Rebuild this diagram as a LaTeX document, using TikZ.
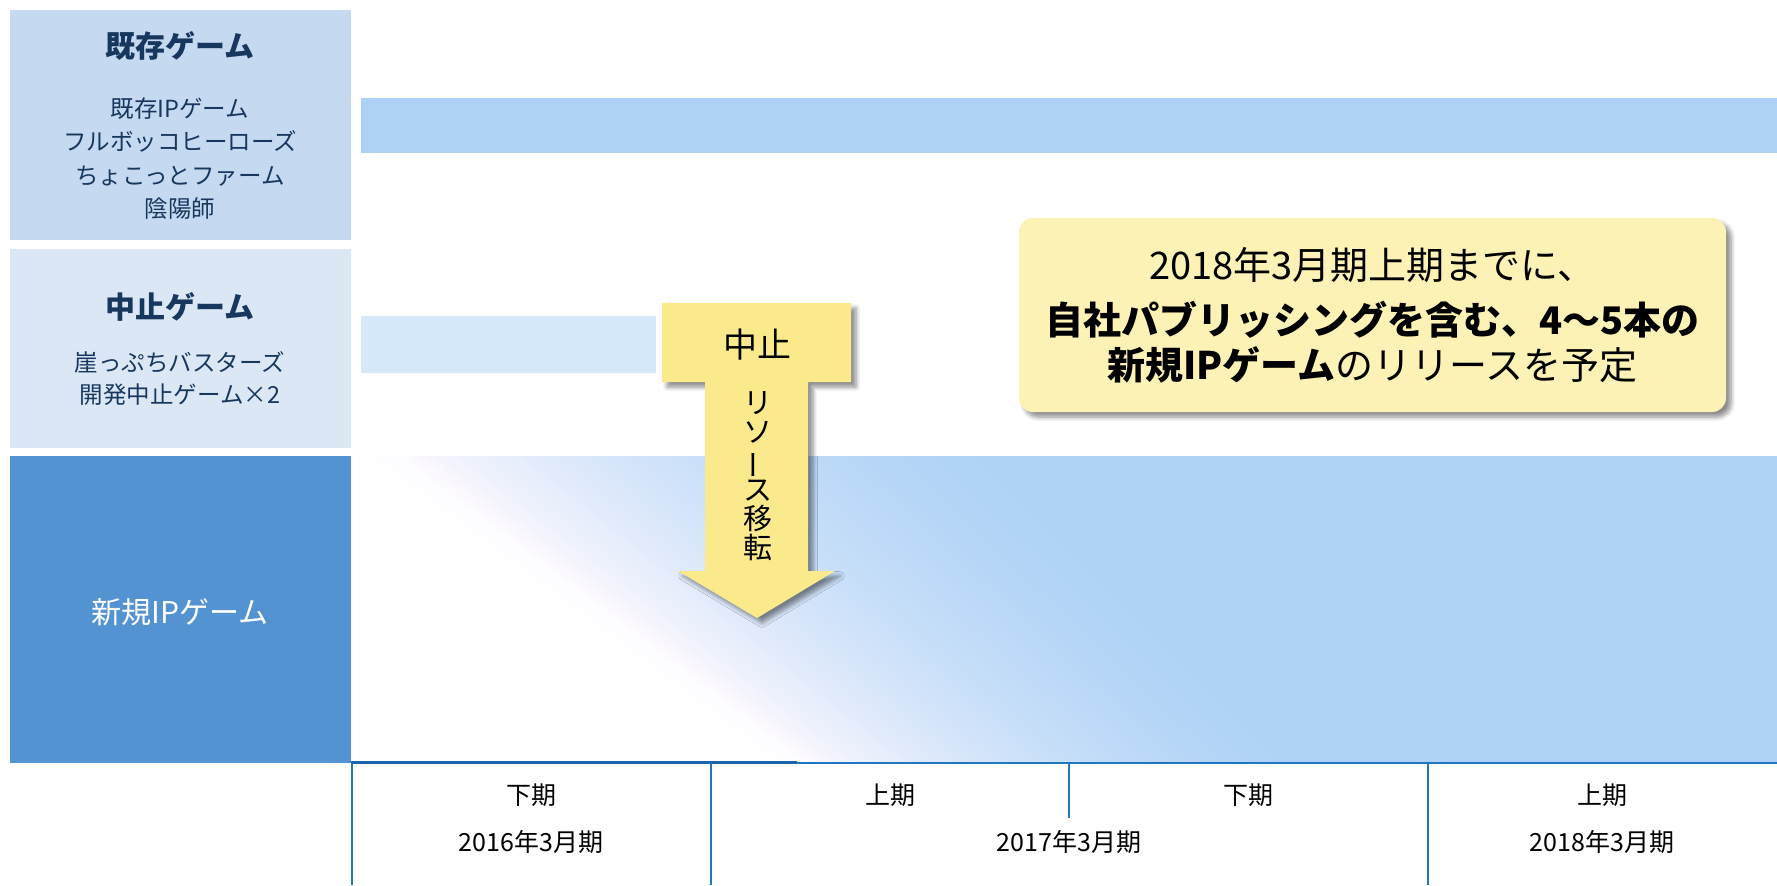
\documentclass[tikz,border=0pt]{standalone}
\usepackage{fontspec}
\usepackage{graphicx}
\setmainfont{Noto Sans CJK JP}
\usetikzlibrary{shadows.blur}
\definecolor{navy}{HTML}{17375E}
\definecolor{boxA}{HTML}{C5D9F0}
\definecolor{boxB}{HTML}{DBE7F4}
\definecolor{boxC}{HTML}{5393D2}
\definecolor{bandA}{HTML}{AED2F6}
\definecolor{bandB}{HTML}{D6E9FB}
\definecolor{nb}{HTML}{AED2F6}
\definecolor{lav}{HTML}{FCF8FE}
\definecolor{arrowy}{HTML}{FAEA8C}
\definecolor{callouty}{HTML}{FCF2B5}
\definecolor{tlblue}{HTML}{1F77C4}
\tikzset{
  catbox/.style={draw=none, inner sep=0pt, outer sep=0pt, anchor=north west, minimum width=170.5pt},
  cattitle/.style={text=navy, font=\fontsize{15pt}{18pt}\selectfont\bfseries},
  catlist/.style={text=navy, align=center, inner sep=0pt},
  tltext/.style={font=\fontsize{12.5pt}{15pt}\selectfont, text=black},
  tl/.style={draw=tlblue, line width=1pt},
  shad/.style={blur shadow={shadow xshift=2.5pt, shadow yshift=-2.5pt, shadow blur steps=6, shadow opacity=45}}
}
\begin{document}
\begin{tikzpicture}[x=0.5pt,y=-0.5pt]
\useasboundingbox (0,0) rectangle (1777,885);

% left category boxes
\node[catbox, fill=boxA, minimum height=115pt] (catA) at (10,10) {};
\node[catbox, fill=boxB, minimum height=99.5pt] (catB) at (10,249) {};
\node[catbox, fill=boxC, minimum height=153.5pt] (catC) at (10,456) {};

\node[cattitle] (tA) at (180,46) {既存ゲーム};
\node[catlist, font=\fontsize{11.75pt}{16.75pt}\selectfont] (lA) at (180,158.5)
  {既存IPゲーム\\フルボッコヒーローズ\\ちょこっとファーム\\陰陽師};
\node[cattitle] (tB) at (180,307) {中止ゲーム};
\node[catlist, font=\fontsize{11.75pt}{16pt}\selectfont] (lB) at (180,379)
  {崖っぷちバスターズ\\開発中止ゲーム×2};
\node[text=white, font=\fontsize{15pt}{18pt}\selectfont] (tC) at (180,612) {新規IPゲーム};

% bands
\fill[bandA] (361,98) rectangle (1777,153);
\fill[bandB] (361,316) rectangle (656,373);

% gradient area for new IP games
\begin{scope}
  \clip (351,456) rectangle (1777,762);
  \fill[nb] (351,456) rectangle (1777,762);
  \fill[white] (300,456) -- (362,456) -- (772,762) -- (300,762) -- cycle;
  \foreach \i in {0,...,59}{
    \pgfmathsetmacro{\q}{(\i+0.5)/60}
    \pgfmathsetmacro{\xa}{360+\i*10.667}
    \pgfmathsetmacro{\xb}{\xa+11.667}
    \pgfmathsetmacro{\xd}{770+\i*8.933}
    \pgfmathsetmacro{\xc}{\xd+9.933}
    \pgfmathsetmacro{\gg}{100*min(1,\q/0.12)}
    \pgfmathsetmacro{\tt}{max(0,(\q-0.06)/0.94)}
    \pgfmathsetmacro{\ff}{100*(0.6*(1-(1-\tt)*(1-\tt))+0.4*\tt)}
    \fill[nb!\ff!lav!\gg!white] (\xa,456) -- (\xb,456) -- (\xc,762) -- (\xd,762) -- cycle;
  }
\end{scope}

% timeline
\draw[tl] (351,763) -- (1777,763);
\draw[draw=tlblue!85!black, line width=1.5pt] (351,762) -- (797,762);
\draw[tl] (352,763) -- (352,885);
\draw[tl] (711,763) -- (711,885);
\draw[tl] (1069,763) -- (1069,818);
\draw[tl] (1428,763) -- (1428,885);

\node[tltext] (h1) at (531,795) {下期};
\node[tltext] (h2) at (890,795) {上期};
\node[tltext] (h3) at (1248,795) {下期};
\node[tltext] (h4) at (1602,795) {上期};
\node[tltext] (y1) at (531,842) {2016年3月期};
\node[tltext] (y2) at (1069,842) {2017年3月期};
\node[tltext] (y3) at (1602,842) {2018年3月期};

% yellow arrow
\fill[arrowy, shad] (662,303) -- (851,303) -- (851,382) -- (808,382) -- (808,571)
  -- (835,571) -- (757,618) -- (678,571) -- (705,571) -- (705,382) -- (662,382) -- cycle;
\node[font=\fontsize{17pt}{20pt}\selectfont] (stop) at (757,345) {中止};
\node[align=center, inner sep=0pt, font=\fontsize{14.5pt}{14.5pt}\selectfont] (move) at (758,476)
  {リ\\ソ\\\raisebox{0pt}[0.88em][0.12em]{\rotatebox[origin=c]{90}{ー}}\\ス\\移\\転};

% callout
\node[fill=callouty, rounded corners=7pt, minimum width=353.5pt, minimum height=97pt,
  inner sep=0pt, align=center, shad,
  font=\fontsize{19pt}{22.5pt}\selectfont] (callout) at (1372.5,315)
  {2018年3月期上期までに、\\[5pt]
   \textbf{自社パブリッシングを含む、4〜5本の}\\
   \textbf{新規IPゲーム}のリリースを予定};
\end{tikzpicture}
\end{document}
